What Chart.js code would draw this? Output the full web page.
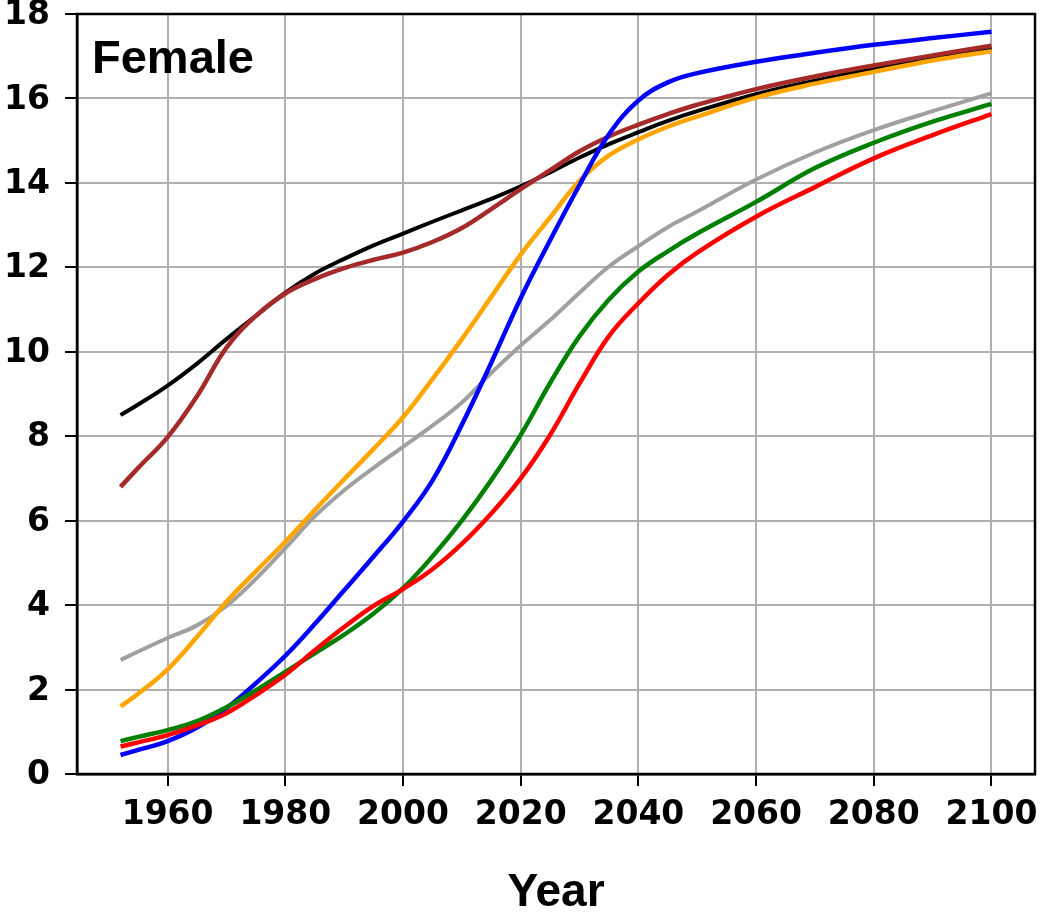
<!DOCTYPE html>
<html>
<head>
<meta charset="utf-8">
<script src="https://cdn.jsdelivr.net/npm/chart.js@4.4.1/dist/chart.umd.min.js"></script>
<style>
  html, body { margin: 0; padding: 0; background: #fff; }
  #wrap { width: 1043px; height: 916px; position: relative; }
</style>
</head>
<body>
<div id="wrap"><canvas id="c" width="1043" height="916"></canvas></div>
<script>
// ---- data ----
const panelLabel = 'Female';
const xTitle = 'Year';
const years = [1952,1955,1960,1965,1970,1975,1980,1985,1990,1995,2000,2005,2010,2015,2020,2025,2030,2035,2040,2045,2050,2060,2070,2080,2090,2100];
const xTickValues = [1960,1980,2000,2020,2040,2060,2080,2100];
const yTickValues = [0,2,4,6,8,10,12,14,16,18];

const blackSeries  = [8.5,8.75,9.2,9.72,10.3,10.85,11.4,11.85,12.2,12.52,12.8,13.08,13.35,13.62,13.92,14.25,14.6,14.92,15.2,15.47,15.7,16.1,16.42,16.7,16.95,17.2];
const brownSeries  = [6.8,7.25,7.98,8.95,10.1,10.85,11.38,11.72,11.98,12.18,12.35,12.6,12.93,13.38,13.85,14.3,14.75,15.1,15.38,15.63,15.85,16.22,16.52,16.78,17.02,17.25];
const orangeSeries = [1.6,1.9,2.48,3.25,4.08,4.8,5.5,6.25,6.98,7.7,8.45,9.35,10.3,11.3,12.3,13.18,14.05,14.65,15.03,15.33,15.57,16.02,16.35,16.63,16.9,17.12];
const blueSeries   = [0.45,0.57,0.78,1.1,1.56,2.15,2.8,3.55,4.35,5.15,5.98,6.95,8.27,9.74,11.27,12.64,13.95,15.15,15.95,16.38,16.6,16.87,17.08,17.27,17.43,17.58];
const greySeries   = [2.7,2.9,3.22,3.52,3.98,4.62,5.35,6.1,6.72,7.25,7.75,8.25,8.8,9.5,10.15,10.75,11.4,12.02,12.5,12.95,13.32,14.08,14.72,15.25,15.7,16.12];
const greenSeries  = [0.78,0.88,1.04,1.25,1.58,1.98,2.42,2.86,3.3,3.8,4.4,5.15,6.0,6.96,8.03,9.26,10.37,11.24,11.9,12.38,12.8,13.55,14.35,14.95,15.45,15.87];
const redSeries    = [0.65,0.75,0.92,1.15,1.44,1.87,2.35,2.93,3.48,3.98,4.38,4.85,5.45,6.17,7.0,8.03,9.25,10.37,11.15,11.82,12.35,13.2,13.9,14.58,15.13,15.63];

const xMin = 1944.6, xMax = 2107.4, yMin = 0, yMax = 18;

function pts(vals) { return years.map((y, i) => ({ x: y, y: vals[i] })); }
function ds(vals, color, width, order) {
  return {
    data: pts(vals), borderColor: color, backgroundColor: color,
    borderWidth: width, pointRadius: 0, pointHoverRadius: 0,
    tension: 0.4, fill: false, order: order, borderCapStyle: 'butt'
  };
}

const tickFont = { family: '"DejaVu Sans", sans-serif', weight: 'bold', size: 33 };

const framePlugin = {
  id: 'frame',
  afterDraw(chart) {
    const { ctx, chartArea: a } = chart;
    ctx.save();
    ctx.strokeStyle = '#000';
    ctx.lineWidth = 2.5;
    ctx.strokeRect(a.left, a.top, a.right - a.left, a.bottom - a.top);
    ctx.fillStyle = '#000';
    ctx.font = 'bold 47px "Liberation Sans", Arial, sans-serif';
    ctx.textBaseline = 'alphabetic';
    ctx.textAlign = 'left';
    ctx.fillText(panelLabel, a.left + 15, a.top + 59);
    ctx.restore();
  }
};

new Chart(document.getElementById('c'), {
  type: 'line',
  data: {
    datasets: [
      ds(redSeries, '#ff0000', 4.5, 1),
      ds(greenSeries, '#008000', 4.5, 2),
      ds(blueSeries, '#0000ff', 4.5, 3),
      ds(orangeSeries, '#ffa500', 4.5, 4),
      ds(greySeries, '#a0a0a0', 4, 5),
      ds(brownSeries, '#a52a2a', 4.5, 6),
      ds(blackSeries, '#000000', 4, 7)
    ]
  },
  options: {
    responsive: false,
    animation: false,
    events: [],
    layout: { padding: { top: 14, right: 8, left: 0, bottom: 0 } },
    plugins: { legend: { display: false }, tooltip: { enabled: false }, title: { display: false } },
    scales: {
      x: {
        type: 'linear', min: xMin, max: xMax,
        afterBuildTicks(s) { s.ticks = xTickValues.map(v => ({ value: v })); },
        afterFit(s) { s.height = 142; s.paddingLeft = 0; s.paddingRight = 0; s.paddingTop = 0; s.paddingBottom = 0; },
        ticks: { font: tickFont, color: '#000', padding: 10, maxRotation: 0, autoSkip: false, callback: v => String(v) },
        grid: { color: '#b0b0b0', lineWidth: 2, tickColor: '#000', tickWidth: 2, tickLength: 12, drawTicks: true },
        border: { display: true, color: '#000', width: 2.5 },
        title: { display: true, text: xTitle, color: '#000',
                 font: { family: '"Liberation Sans", Arial, sans-serif', weight: 'bold', size: 46, lineHeight: 1 },
                 padding: { top: 0, bottom: 0 } }
      },
      y: {
        type: 'linear', min: yMin, max: yMax,
        afterBuildTicks(s) { s.ticks = yTickValues.map(v => ({ value: v })); },
        afterFit(s) { s.width = 77; s.paddingLeft = 0; s.paddingRight = 0; s.paddingTop = 0; s.paddingBottom = 0; },
        ticks: { font: tickFont, color: '#000', padding: 15, labelOffset: 1.5, autoSkip: false, callback: v => String(v) },
        grid: { color: '#b0b0b0', lineWidth: 2, tickColor: '#000', tickWidth: 2, tickLength: 12, drawTicks: true },
        border: { display: true, color: '#000', width: 2.5 }
      }
    }
  },
  plugins: [framePlugin]
});
</script>
</body>
</html>
